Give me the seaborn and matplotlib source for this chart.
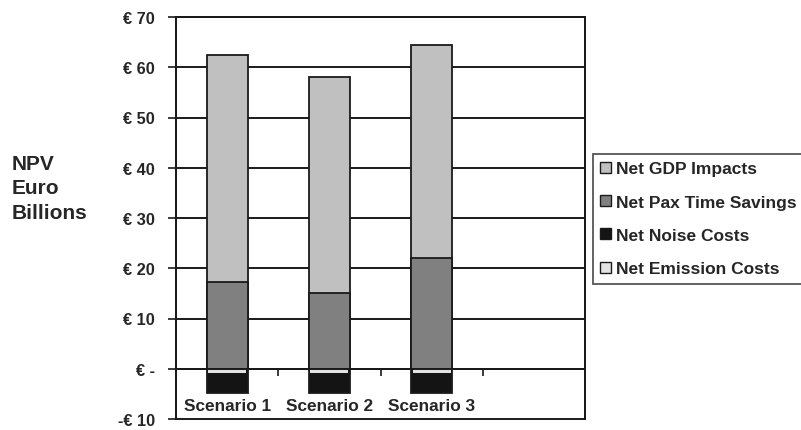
import matplotlib
matplotlib.use("Agg")
import matplotlib.pyplot as plt
import seaborn as sns
import pandas as pd
from matplotlib.patches import Rectangle, Patch

sns.set_theme(style="white")
plt.rcParams["font.family"] = ["Liberation Sans", "DejaVu Sans"]

# Net present value components per scenario (EUR billions)
scenarios = ["Scenario 1", "Scenario 2", "Scenario 3"]
gdp_impacts = [45.1, 43.1, 42.4]
pax_time_savings = [17.3, 15.0, 22.0]
noise_costs = [-4.0, -4.0, -4.0]
emission_costs = [-0.8, -0.8, -0.8]

y_ticks = [-10, 0, 10, 20, 30, 40, 50, 60, 70]
y_tick_labels = ["-€ 10", "€ -", "€ 10", "€ 20", "€ 30", "€ 40", "€ 50", "€ 60", "€ 70"]

series_labels = ["Net GDP Impacts", "Net Pax Time Savings", "Net Noise Costs", "Net Emission Costs"]
colors = {"gdp": "#c0c0c0", "pax": "#808080", "noise": "#141414", "emission": "#e3e3e3"}

df = pd.DataFrame({
    "scenario": scenarios,
    "gdp": gdp_impacts,
    "pax": pax_time_savings,
    "noise": noise_costs,
    "emission": emission_costs,
})
df["positive_total"] = df["gdp"] + df["pax"]
df["negative_total"] = df["noise"] + df["emission"]

fig = plt.figure(figsize=(8.01, 4.31), dpi=100)
ax = fig.add_axes([176 / 801, 11 / 431, 409 / 801, 402 / 431])

edge = dict(edgecolor="#1a1a1a", linewidth=1.3, width=0.4, zorder=3)
# stacked bars: draw the cumulative totals, then the lower segments on top
sns.barplot(data=df, x="scenario", y="positive_total", color=colors["gdp"],
            saturation=1, ax=ax, **edge)
sns.barplot(data=df, x="scenario", y="pax", color=colors["pax"],
            saturation=1, ax=ax, **edge)
sns.barplot(data=df, x="scenario", y="negative_total", color=colors["noise"],
            saturation=1, ax=ax, **edge)
sns.barplot(data=df, x="scenario", y="emission", color=colors["emission"],
            saturation=1, ax=ax, edgecolor="none", linewidth=0, width=0.37, zorder=3.5)

ax.set_xlim(-0.5, 3.5)
ax.set_ylim(-10, 70)
ax.set_xlabel("")
ax.set_ylabel("")

# horizontal gridlines
for v in y_ticks[1:]:
    ax.axhline(v, color="#1a1a1a", linewidth=1.4, zorder=1)
ax.axhline(0, color="#1a1a1a", linewidth=1.4, zorder=3.6)

ax.set_yticks(y_ticks)
ax.set_yticklabels(y_tick_labels, fontsize=11.8, fontweight="bold")
ax.tick_params(axis="y", which="major", direction="out", length=6, width=1.2,
               color="#1a1a1a", left=True, pad=9)

# category axis crosses at zero; labels sit below the negative bars
ax.spines["bottom"].set_position(("data", 0))
ax.spines["bottom"].set_visible(False)
ax.set_xticks([0, 1, 2])
ax.set_xticklabels(scenarios, fontsize=12.4, fontweight="bold")
ax.set_xticks([0.5, 1.5, 2.5], minor=True)
ax.tick_params(axis="x", which="major", length=0, pad=21)
ax.tick_params(axis="x", which="minor", direction="out", bottom=True, length=5,
               width=1.2, color="#1a1a1a")

for s in ["left", "right", "top"]:
    ax.spines[s].set_visible(True)
    ax.spines[s].set_color("#1a1a1a")
    ax.spines[s].set_linewidth(1.4)
ax.add_patch(Rectangle((0, 0), 1, 1, transform=ax.transAxes, fill=False,
                       edgecolor="#1a1a1a", linewidth=1.4, zorder=4, clip_on=False))

fig.text(12 / 801, 1 - 189 / 431, "NPV\nEuro\nBillions", fontsize=15,
         fontweight="bold", ha="left", va="center", linespacing=1.38)

handles = [Patch(facecolor=colors[k], edgecolor="#1a1a1a", linewidth=1.0)
           for k in ["gdp", "pax", "noise", "emission"]]
leg = fig.legend(handles, series_labels, loc="upper left",
                 bbox_to_anchor=(593 / 801, 1 - 155 / 431),
                 prop={"size": 12.5, "weight": "bold"},
                 frameon=True, fancybox=False, handlelength=0.6, handleheight=0.6,
                 handletextpad=0.3, labelspacing=1.06, borderpad=0.42,
                 borderaxespad=0)
leg.get_frame().set_edgecolor("#1a1a1a")
leg.get_frame().set_linewidth(1.2)

fig.savefig("out.png", dpi=100, facecolor="white")
